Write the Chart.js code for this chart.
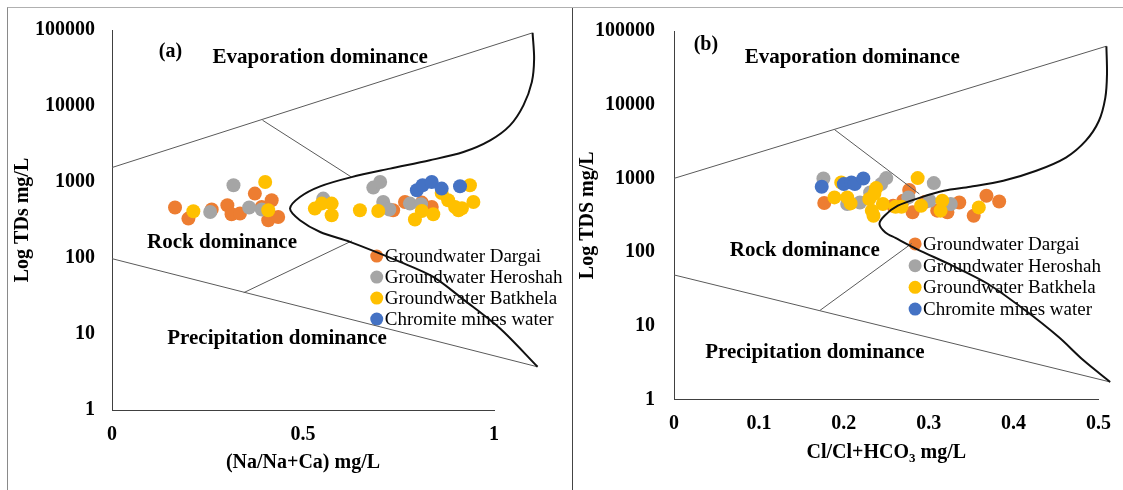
<!DOCTYPE html>
<html>
<head>
<meta charset="utf-8">
<title>Gibbs diagrams</title>
<script src="https://cdn.jsdelivr.net/npm/chart.js@4.4.1/dist/chart.umd.min.js"></script>
<style>
  html, body { margin: 0; padding: 0; background: #fff; }
  #page { position: relative; width: 1123px; height: 490px; overflow: hidden; }
  #frame { position: absolute; left: 7px; top: 7px; width: 1200px; height: 600px;
           border-left: 1px solid #8a8a8a; border-top: 1px solid #b0b0b0; }
  #divider { position: absolute; left: 572px; top: 8px; width: 1px; height: 490px; background: #444; }
  canvas { position: absolute; top: 0; }
  #gibbsA { left: 0; }
  #gibbsB { left: 573px; }
</style>
</head>
<body>
<div id="page">
  <div id="frame"></div>
  <div id="divider"></div>
  <canvas id="gibbsA" width="572" height="490"></canvas>
  <canvas id="gibbsB" width="550" height="490"></canvas>
</div>
<script>
const seriesNames = ['Groundwater Dargai', 'Groundwater Heroshah', 'Groundwater Batkhela', 'Chromite mines water'];
const seriesColors = ['#ED7D31', '#A5A5A5', '#FFC000', '#4472C4'];
const tdsTicks = [1, 10, 100, 1000, 10000, 100000];
const ratioTicksA = [0, 0.5, 1];
const ratioTicksB = [0, 0.1, 0.2, 0.3, 0.4, 0.5];

// (a) Na/(Na+Ca) vs TDS
const dargaiNaA = [0.165, 0.200, 0.261, 0.302, 0.313, 0.335, 0.374, 0.418, 0.392, 0.409, 0.435, 0.736, 0.767, 0.811, 0.837];
const dargaiTdsA = [461, 330, 434, 494, 376, 385, 704, 575, 469, 314, 347, 425, 546, 536, 469];
const heroshahNaA = [0.318, 0.257, 0.359, 0.392, 0.553, 0.684, 0.702, 0.710, 0.726, 0.780, 0.809];
const heroshahTdsA = [905, 403, 461, 434, 605, 844, 1000, 546, 434, 520, 509];
const batkhelaNaA = [0.401, 0.213, 0.409, 0.531, 0.549, 0.575, 0.575, 0.649, 0.697, 0.793, 0.811, 0.841, 0.863, 0.880, 0.898, 0.907, 0.937, 0.946, 0.916];
const batkhelaTdsA = [1000, 412, 425, 447, 520, 520, 365, 425, 416, 321, 416, 376, 717, 575, 469, 425, 905, 546, 451];
const chromiteNaA = [0.798, 0.813, 0.837, 0.863, 0.911];
const chromiteTdsA = [778, 905, 1000, 819, 878];

// (b) Cl/(Cl+HCO3) vs TDS
const dargaiClB = [0.177, 0.270, 0.277, 0.281, 0.310, 0.322, 0.336, 0.353, 0.368, 0.383, 0.296, 0.258];
const dargaiTdsB = [463, 498, 695, 346, 365, 346, 472, 312, 582, 487, 482, 426];
const heroshahClB = [0.176, 0.204, 0.219, 0.231, 0.250, 0.244, 0.306, 0.276, 0.301, 0.326];
const heroshahTdsB = [997, 449, 472, 645, 1009, 837, 864, 552, 498, 449];
const batkhelaClB = [0.189, 0.197, 0.204, 0.208, 0.230, 0.233, 0.235, 0.238, 0.246, 0.261, 0.268, 0.287, 0.291, 0.316, 0.314, 0.359, 0.236];
const batkhelaTdsB = [552, 880, 552, 458, 525, 365, 312, 739, 449, 413, 413, 1009, 426, 498, 365, 404, 619];
const chromiteClB = [0.174, 0.200, 0.209, 0.213, 0.223];
const chromiteTdsB = [770, 837, 880, 837, 997];

// Gibbs boundaries (a)
const evapXA = [0, 1.101], evapYA = [1550, 91800];
const rockTopXA = [0.394, 0.627], rockTopYA = [6500, 1160];
const precXA = [0, 1.114], precYA = [98, 3.7];
const rockLowXA = [0.345, 0.628], rockLowYA = [35, 168];
const curveXA = [1.101, 1.105, 1.099, 1.077, 1.042, 0.990, 0.920, 0.832, 0.728, 0.627, 0.545, 0.492, 0.466, 0.492, 0.545, 0.623, 0.754, 0.841, 0.922, 1.016, 1.114];
const curveYA = [91800, 41800, 20600, 10200, 5560, 3530, 2480, 1930, 1500, 1160, 877, 635, 447, 314, 220, 163, 89, 56.5, 27.9, 11.8, 3.7];

// Gibbs boundaries (b)
const evapXB = [0, 0.5093], evapYB = [1000, 62200];
const rockTopXB = [0.189, 0.289], rockTopYB = [4600, 615];
const precXB = [0, 0.5137], precYB = [49, 1.73];
const rockLowXB = [0.172, 0.280], rockLowYB = [16.2, 131];
const curveXB = [0.5093, 0.510, 0.508, 0.5004, 0.4849, 0.4616, 0.4267, 0.3879, 0.349, 0.318, 0.2908, 0.2637, 0.248, 0.242, 0.249, 0.2608, 0.2859, 0.3277, 0.3695, 0.4113, 0.4531, 0.4823, 0.5137];
const curveYB = [62200, 25800, 12400, 6010, 3230, 1920, 1270, 929, 769, 679, 552, 426, 312, 241, 185, 156, 110, 65.6, 37.2, 17.0, 7.03, 3.40, 1.73];

const serif = 'Liberation Serif';
const pts = (xs, ys) => xs.map((x, i) => ({x: x, y: ys[i]}));

// region labels, legend and the subscript title
const decor = {
  id: 'decor',
  beforeDatasetsDraw(chart, args, opts) {
    const ctx = chart.ctx, xs = chart.scales.x, ys = chart.scales.y;
    ctx.save();
    ctx.fillStyle = '#000';
    ctx.textAlign = 'center';
    ctx.textBaseline = 'middle';
    opts.labels.forEach(l => {
      ctx.font = 'bold ' + l.size + 'px "' + serif + '"';
      ctx.fillText(l.text, xs.getPixelForValue(l.x), ys.getPixelForValue(l.y));
    });
    const lx = xs.getPixelForValue(opts.legend.x);
    let ly = ys.getPixelForValue(opts.legend.y);
    ctx.font = '19px "' + serif + '"';
    ctx.textAlign = 'left';
    seriesNames.forEach((name, i) => {
      ctx.fillStyle = seriesColors[i];
      ctx.beginPath();
      ctx.arc(lx, ly, 6.5, 0, Math.PI * 2);
      ctx.fill();
      ctx.fillStyle = '#000';
      ctx.fillText(name, lx + 8, ly + 1);
      ly += opts.legend.step;
    });
    ctx.restore();
  },
  afterDraw(chart, args, opts) {
    if (!opts.xTitle) return;
    const ctx = chart.ctx;
    const main = 'bold 20px "' + serif + '"', sub = 'bold 13px "' + serif + '"';
    ctx.save();
    ctx.fillStyle = '#000';
    ctx.textBaseline = 'middle';
    ctx.textAlign = 'left';
    let total = 0;
    opts.xTitle.forEach(p => { ctx.font = p[1] ? sub : main; total += ctx.measureText(p[0]).width; });
    let cx = (chart.chartArea.left + chart.chartArea.right) / 2 - total / 2;
    opts.xTitle.forEach(p => {
      ctx.font = p[1] ? sub : main;
      ctx.fillText(p[0], cx, opts.xTitleY + (p[1] ? 6 : 0));
      cx += ctx.measureText(p[0]).width;
    });
    ctx.restore();
  }
};

function frameLine(xs, ys, width, color, tension) {
  return {
    data: pts(xs, ys), showLine: true, borderColor: color, borderWidth: width,
    pointRadius: 0, pointHoverRadius: 0, tension: tension, clip: false, order: 0
  };
}

function buildPanel(id, p) {
  const datasets = [
    frameLine(p.curve[0], p.curve[1], 2, '#111', 0.3),
    frameLine(p.evap[0], p.evap[1], 1, '#5a5a5a', 0),
    frameLine(p.rockTop[0], p.rockTop[1], 1, '#5a5a5a', 0),
    frameLine(p.prec[0], p.prec[1], 1, '#5a5a5a', 0),
    frameLine(p.rockLow[0], p.rockLow[1], 1, '#5a5a5a', 0)
  ];
  p.series.forEach((s, i) => {
    datasets.push({
      label: seriesNames[i], data: pts(s[0], s[1]),
      backgroundColor: seriesColors[i], borderWidth: 0,
      pointRadius: 7, pointHoverRadius: 7, order: 5 - i
    });
  });
  const tickFont = {family: serif, size: 20, weight: 'bold'};
  return new Chart(document.getElementById(id), {
    type: 'scatter',
    data: {datasets: datasets},
    options: {
      responsive: false,
      animation: false,
      events: [],
      layout: {padding: p.padding},
      plugins: {
        legend: {display: false},
        tooltip: {enabled: false},
        decor: {labels: p.labels, legend: p.legend, xTitle: p.xTitleParts, xTitleY: p.xTitleY}
      },
      scales: {
        x: {
          type: 'linear', min: 0, max: p.xMax,
          afterBuildTicks: s => { s.ticks = p.xTicks.map(v => ({value: v})); },
          afterFit: s => { s.height = p.xHeight; },
          grid: {display: false, drawTicks: false},
          border: {display: true, color: '#404040', width: 1},
          ticks: {padding: p.xPad, color: '#000', font: tickFont, maxRotation: 0, callback: v => String(v)},
          title: {display: !!p.xTitle, text: p.xTitle, color: '#000', font: tickFont,
                  padding: {top: 0, bottom: p.xTitlePad}}
        },
        y: {
          type: 'logarithmic', min: 1, max: 100000,
          afterBuildTicks: s => { s.ticks = tdsTicks.map(v => ({value: v})); },
          afterFit: s => { s.width = p.yWidth; },
          grid: {display: false, drawTicks: false},
          border: {display: true, color: '#404040', width: 1},
          ticks: {padding: p.yPad, color: '#000', font: tickFont, callback: v => String(v)},
          title: {display: true, text: p.yTitle, color: '#000', font: tickFont,
                  padding: {top: p.yTitlePad, bottom: 0}}
        }
      }
    },
    plugins: [decor]
  });
}

buildPanel('gibbsA', {
  series: [[dargaiNaA, dargaiTdsA], [heroshahNaA, heroshahTdsA], [batkhelaNaA, batkhelaTdsA], [chromiteNaA, chromiteTdsA]],
  curve: [curveXA, curveYA], evap: [evapXA, evapYA], rockTop: [rockTopXA, rockTopYA],
  prec: [precXA, precYA], rockLow: [rockLowXA, rockLowYA],
  xMax: 1, xTicks: ratioTicksA,
  xTitle: '(Na/Na+Ca) mg/L', yTitle: 'Log TDs mg/L',
  padding: {left: 0, top: 30, right: 78, bottom: 0},
  xHeight: 80, yWidth: 112, xPad: 13, yPad: 17, xTitlePad: 15, yTitlePad: 11,
  labels: [
    {text: '(a)', x: 0.153, y: 51100, size: 20},
    {text: 'Evaporation dominance', x: 0.545, y: 43900, size: 21},
    {text: 'Rock dominance', x: 0.288, y: 158, size: 21},
    {text: 'Precipitation dominance', x: 0.432, y: 8.8, size: 21}
  ],
  legend: {x: 0.693, y: 106, step: 21}
});

buildPanel('gibbsB', {
  series: [[dargaiClB, dargaiTdsB], [heroshahClB, heroshahTdsB], [batkhelaClB, batkhelaTdsB], [chromiteClB, chromiteTdsB]],
  curve: [curveXB, curveYB], evap: [evapXB, evapYB], rockTop: [rockTopXB, rockTopYB],
  prec: [precXB, precYB], rockLow: [rockLowXB, rockLowYB],
  xMax: 0.5, xTicks: ratioTicksB,
  xTitle: '', yTitle: 'Log TDS mg/L',
  xTitleParts: [['Cl/Cl+HCO', 0], ['3', 1], [' mg/L', 0]], xTitleY: 453,
  padding: {left: 0, top: 30, right: 20, bottom: 0},
  xHeight: 90.5, yWidth: 101, xPad: 12, yPad: 19, xTitlePad: 25, yTitlePad: 3,
  labels: [
    {text: '(b)', x: 0.0376, y: 65700, size: 20},
    {text: 'Evaporation dominance', x: 0.210, y: 43300, size: 21},
    {text: 'Rock dominance', x: 0.154, y: 105, size: 21},
    {text: 'Precipitation dominance', x: 0.166, y: 4.3, size: 21}
  ],
  legend: {x: 0.284, y: 129, step: 21.7}
});
</script>
</body>
</html>
